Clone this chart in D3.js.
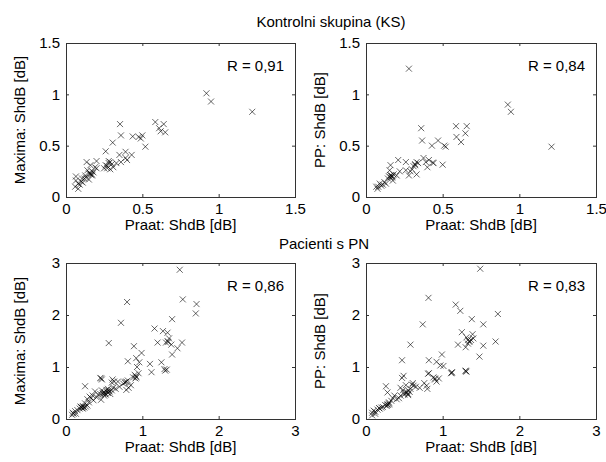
<!DOCTYPE html>
<html><head><meta charset="utf-8">
<script src="https://cdn.jsdelivr.net/npm/d3@7"></script>
<style>
body{margin:0;background:#fff}
svg{display:block}
text{font-family:"Liberation Sans",Arial,Helvetica,sans-serif;font-size:15px;fill:#000}
</style>
</head><body>
<svg id="chart" width="606" height="462"></svg>
<script>
const groupTitles = ["Kontrolni skupina (KS)", "Pacienti s PN"];
const xLabel = "Praat: ShdB [dB]";
const yLabels = ["Maxima: ShdB [dB]", "PP: ShdB [dB]"];
const rValues = ["0,91", "0,84", "0,86", "0,83"];
const ksTicks = [0, 0.5, 1, 1.5];
const pnTicks = [0, 1, 2, 3];

// [Praat, Maxima] — kontrolni skupina
const ksMaxima = [
 [0.92,1.01],[0.95,0.93],[1.22,0.83],
 [0.585,0.73],[0.64,0.71],[0.61,0.67],[0.65,0.63],[0.62,0.64],
 [0.354,0.71],[0.36,0.60],[0.306,0.53],
 [0.437,0.59],[0.476,0.585],[0.50,0.60],[0.49,0.57],[0.52,0.49],
 [0.26,0.445],[0.35,0.41],[0.39,0.44],[0.43,0.41],[0.39,0.38],[0.36,0.34],[0.40,0.36],
 [0.28,0.35],[0.26,0.31],[0.33,0.33],[0.31,0.29],[0.25,0.28],[0.29,0.27],[0.30,0.32],[0.27,0.30],
 [0.20,0.35],[0.135,0.34],[0.16,0.31],[0.19,0.29],[0.14,0.26],[0.17,0.25],[0.15,0.23],[0.16,0.22],[0.17,0.21],[0.18,0.24],
 [0.126,0.21],[0.105,0.18],[0.065,0.20],[0.065,0.16],[0.10,0.15],[0.06,0.10],[0.08,0.08],[0.13,0.19],[0.09,0.12],[0.11,0.14],[0.20,0.28],[0.15,0.17],
 [0.16,0.23],[0.17,0.22],[0.28,0.33],[0.29,0.34],[0.27,0.28],[0.12,0.18],[0.08,0.13]
];
// [Praat, PP] — kontrolni skupina
const ksPP = [
 [0.28,1.25],[0.925,0.90],[0.945,0.83],[1.21,0.49],
 [0.587,0.69],[0.657,0.69],[0.648,0.62],[0.59,0.585],[0.62,0.535],
 [0.36,0.67],[0.366,0.55],[0.43,0.50],[0.47,0.55],[0.51,0.50],[0.52,0.49],
 [0.50,0.315],[0.21,0.36],[0.26,0.34],[0.33,0.34],[0.375,0.38],[0.39,0.34],[0.436,0.335],[0.40,0.29],[0.32,0.31],[0.26,0.26],[0.28,0.21],[0.33,0.22],[0.30,0.27],[0.29,0.25],[0.34,0.33],[0.31,0.30],
 [0.16,0.31],[0.154,0.26],[0.165,0.21],[0.143,0.18],[0.175,0.16],[0.12,0.145],[0.09,0.13],[0.067,0.10],[0.10,0.11],[0.075,0.08],[0.17,0.20],[0.16,0.19],[0.18,0.22],[0.15,0.20],[0.20,0.21],[0.22,0.25],[0.11,0.12],[0.41,0.36],[0.44,0.33],
 [0.17,0.19],[0.16,0.21],[0.32,0.32],[0.08,0.10],[0.13,0.13]
];
// [Praat, Maxima] — pacienti s PN
const pnMaxima = [
 [1.49,2.87],[1.53,2.30],[1.71,2.21],[1.70,2.03],[0.80,2.25],[0.72,1.85],[1.39,1.92],[0.56,1.46],[0.89,1.40],
 [1.16,1.74],[1.27,1.69],[1.33,1.66],[1.20,1.47],[1.31,1.47],[1.38,1.43],[1.52,1.47],[1.46,1.36],[1.33,1.50],[1.35,1.55],[1.39,1.24],
 [0.99,1.27],[0.92,1.17],[0.81,1.11],[0.96,1.09],[1.10,1.06],[1.12,0.90],[1.25,1.09],[1.29,0.96],[1.30,0.93],
 [0.90,0.85],[0.92,0.82],[0.88,0.80],[0.91,0.78],[0.95,0.88],[0.93,1.00],
 [0.79,0.72],[0.77,0.70],[0.75,0.68],[0.81,0.74],[0.79,0.56],[0.82,0.60],[0.70,0.62],
 [0.61,0.76],[0.60,0.70],[0.45,0.79],[0.47,0.76],[0.62,0.60],
 [0.53,0.56],[0.50,0.52],[0.48,0.50],[0.55,0.50],[0.52,0.47],[0.45,0.48],[0.57,0.53],[0.60,0.55],[0.50,0.45],[0.42,0.47],[0.55,0.58],[0.58,0.48],[0.47,0.55],[0.40,0.42],
 [0.25,0.63],[0.38,0.53],[0.31,0.43],[0.28,0.38],[0.33,0.40],[0.36,0.36],[0.46,0.37],
 [0.25,0.30],[0.22,0.25],[0.20,0.22],[0.18,0.20],[0.24,0.22],[0.28,0.26],[0.22,0.20],[0.19,0.24],[0.26,0.24],[0.15,0.17],[0.12,0.15],[0.09,0.12],[0.08,0.08],[0.13,0.10],[0.30,0.32],[0.35,0.45],[0.65,0.58],[0.85,0.65],[0.68,0.72],
 [0.51,0.50],[0.54,0.52],[0.49,0.48],[0.56,0.55],[0.21,0.22],[0.23,0.23],[0.92,0.80],[0.78,0.71],[0.46,0.78],[1.32,0.95],[1.34,1.48],[0.10,0.10],[0.63,0.72]
];
// [Praat, PP] — pacienti s PN
const pnPP = [
 [1.49,2.89],[0.815,2.33],[1.17,2.20],[1.23,2.08],[1.38,1.92],[1.53,1.82],[0.74,1.82],[0.58,1.43],[1.72,2.02],[1.69,1.49],[1.53,1.41],[1.48,1.20],
 [1.25,1.67],[1.39,1.63],[1.31,1.57],[1.20,1.43],[1.35,1.50],[1.33,1.45],[1.30,1.38],[1.37,1.52],[1.40,1.55],
 [0.47,1.13],[0.82,1.13],[0.99,1.24],[0.97,1.03],[0.92,1.10],[1.01,1.02],
 [1.12,0.90],[1.11,0.88],[1.30,0.93],[1.31,0.91],
 [0.82,0.88],[0.49,0.83],[0.81,0.87],[0.88,0.80],[0.92,0.72],[0.90,0.76],[0.95,0.78],[0.76,0.69],[0.79,0.64],[0.80,0.58],
 [0.61,0.69],[0.60,0.66],[0.47,0.79],[0.52,0.65],[0.55,0.55],[0.53,0.50],[0.50,0.47],[0.57,0.52],[0.48,0.55],[0.45,0.45],[0.58,0.58],[0.43,0.40],[0.40,0.38],[0.55,0.46],
 [0.26,0.63],[0.28,0.51],[0.35,0.40],[0.30,0.32],[0.28,0.28],[0.27,0.25],[0.25,0.27],[0.30,0.30],[0.22,0.23],[0.20,0.22],[0.17,0.21],[0.15,0.18],[0.10,0.16],[0.08,0.12],[0.08,0.07],[0.12,0.10],[0.33,0.35],[0.65,0.62],[0.70,0.60],[0.37,0.45],[0.45,0.60],
 [0.53,0.52],[0.55,0.48],[0.50,0.50],[0.28,0.27],[0.30,0.28],[0.12,0.14],[0.18,0.20],[1.35,1.48],[1.33,1.52],[1.12,0.89],[1.30,0.92],[0.90,0.78],[0.62,0.64]
];

const svg = d3.select("#chart");
const panels = [
  {data: ksMaxima, ticks: ksTicks, ylab: yLabels[0], r: rValues[0], x0: 66,  x1: 295, y0: 43,  y1: 197},
  {data: ksPP,     ticks: ksTicks, ylab: yLabels[1], r: rValues[1], x0: 366, x1: 596, y0: 43,  y1: 197},
  {data: pnMaxima, ticks: pnTicks, ylab: yLabels[0], r: rValues[2], x0: 66,  x1: 295, y0: 263, y1: 419},
  {data: pnPP,     ticks: pnTicks, ylab: yLabels[1], r: rValues[3], x0: 366, x1: 596, y0: 263, y1: 419}
];

panels.forEach(p => {
  const dom = [p.ticks[0], p.ticks[p.ticks.length - 1]];
  const x = d3.scaleLinear().domain(dom).range([p.x0, p.x1]);
  const y = d3.scaleLinear().domain(dom).range([p.y1, p.y0]);
  const g = svg.append("g");

  g.append("g").selectAll("path").data(p.data).join("path")
    .attr("transform", d => `translate(${x(d[0])},${y(d[1])})`)
    .attr("d", "M-3,-3L3,3M-3,3L3,-3")
    .attr("stroke", "#000").attr("stroke-opacity", 0.6)
    .attr("stroke-width", 1).attr("fill", "none");

  const ax = (axis, tr, labels) => {
    const a = g.append("g").attr("transform", tr)
      .call(axis.tickValues(p.ticks).tickSize(-3).tickPadding(labels ? 6 : 0)
        .tickFormat(labels ? (d => String(d)) : ""));
    a.select(".domain").remove();
    a.selectAll(".tick line").attr("stroke", "#333");
    a.selectAll("text").attr("font-size", 15).attr("font-family", null).attr("fill", "#000");
    return a;
  };
  ax(d3.axisBottom(x), `translate(0,${p.y1})`, true);
  ax(d3.axisTop(x), `translate(0,${p.y0})`, false);
  const la = ax(d3.axisLeft(y), `translate(${p.x0},0)`, true);
  la.selectAll("text").attr("x", -6);
  ax(d3.axisRight(y), `translate(${p.x1},0)`, false);

  g.append("rect").attr("x", p.x0 + 0.5).attr("y", p.y0 + 0.5)
    .attr("width", p.x1 - p.x0).attr("height", p.y1 - p.y0)
    .attr("fill", "none").attr("stroke", "#333").attr("stroke-width", 1);

  g.append("text").attr("x", (p.x0 + p.x1) / 2).attr("y", p.y1 + 33)
    .attr("text-anchor", "middle").attr("font-size", 14).text(xLabel);
  g.append("text").attr("transform", `translate(${p.x0 - 41},${(p.y0 + p.y1) / 2}) rotate(-90)`)
    .attr("text-anchor", "middle").attr("font-size", 14).text(p.ylab);
  g.append("text").attr("x", p.x1 - 11).attr("y", p.y0 + 28)
    .attr("text-anchor", "end").text("R = " + p.r);
});

svg.append("text").attr("x", 331).attr("y", 27).attr("text-anchor", "middle").attr("font-size", 14).text(groupTitles[0]);
svg.append("text").attr("x", 324).attr("y", 249).attr("text-anchor", "middle").attr("font-size", 14).text(groupTitles[1]);
</script>
</body></html>
